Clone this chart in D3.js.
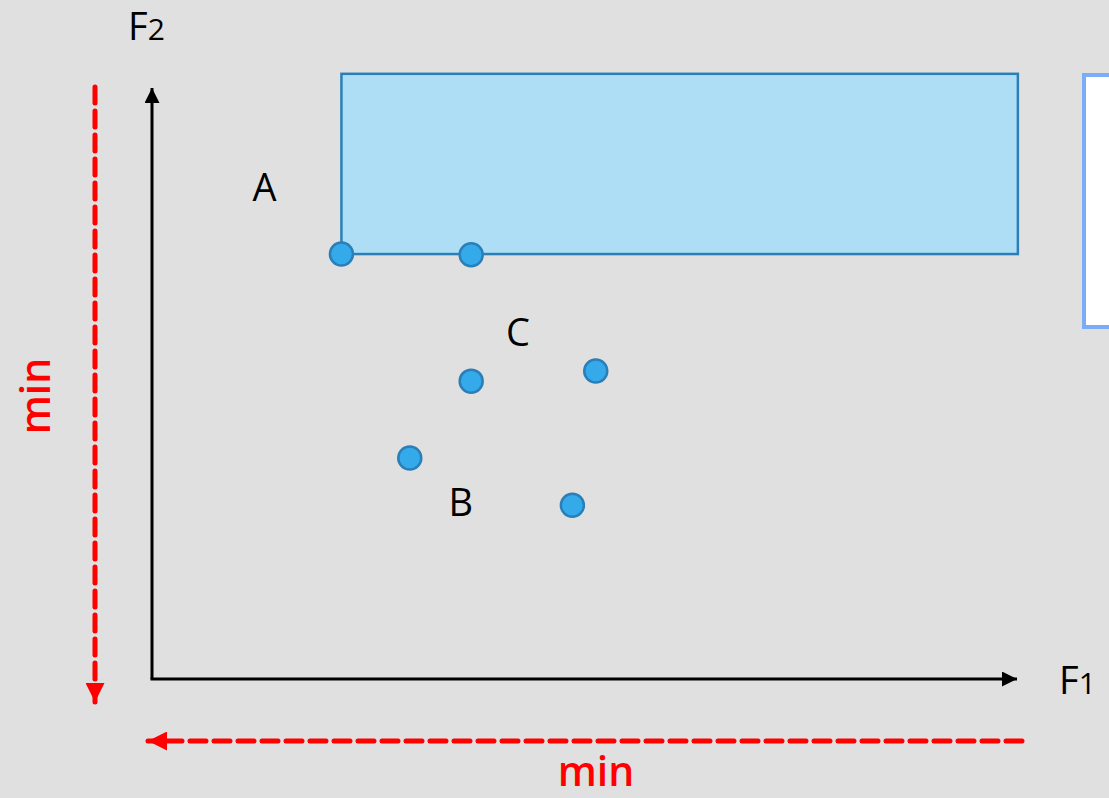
<!DOCTYPE html>
<html lang="en">
<head>
    <meta charset="UTF-8">
    <title>F1 / F2 dominance</title>
    <script src="https://d3js.org/d3.v7.min.js"></script>
    <style>
        body {
            margin: 0;
            background-color: #e0e0e0;
            font-family: 'Open Sans', sans-serif;
        }
        svg { display: block; }
        .label { font-size: 38px; fill: #000; }
        .min-label { font-size: 41px; font-weight: 600; fill: #ff0000; }
        .dash { stroke: #ff0000; stroke-width: 5; stroke-dasharray: 16 8; stroke-linecap: round; fill: none; }
    </style>
</head>
<body>
    <svg id="chart" width="1109" height="798"></svg>

    <script>
        // objective values (F1, F2 on a 0-100 scale)
        const pointsF1 = [21.9, 36.9, 36.9, 51.3, 29.8, 48.6];
        const pointsF2 = [71.9, 71.8, 50.4, 52.1, 37.4, 29.4];

        // dominated region (upper right of point A)
        const regionF1 = [21.9, 100.1];
        const regionF2 = [71.9, 102.4];

        // letter labels
        const labelNames = ["A", "C", "B"];
        const labelF1 = [13.0, 42.3, 35.7];
        const labelF2 = [83.2, 58.7, 29.9];

        const svg = d3.select("#chart");
        const x = d3.scaleLinear().domain([0, 100]).range([152, 1017]);
        const y = d3.scaleLinear().domain([0, 100]).range([679, 88]);

        const defs = svg.append("defs");
        defs.append("marker")
            .attr("id", "arrowBlack")
            .attr("viewBox", "0 0 10 10")
            .attr("refX", 10).attr("refY", 5)
            .attr("markerWidth", 5).attr("markerHeight", 5)
            .attr("markerUnits", "strokeWidth")
            .attr("orient", "auto")
            .append("path").attr("d", "M0,0 L10,5 L0,10 Z").attr("fill", "#000");
        defs.append("marker")
            .attr("id", "arrowRed")
            .attr("viewBox", "0 0 10 10")
            .attr("refX", 10).attr("refY", 5)
            .attr("markerWidth", 4).attr("markerHeight", 3.8)
            .attr("markerUnits", "strokeWidth")
            .attr("orient", "auto")
            .append("path").attr("d", "M0,0 L10,5 L0,10 Z").attr("fill", "#ff0000");

        // white panel cut off at the right edge
        svg.append("rect")
            .attr("x", 1084).attr("y", 75)
            .attr("width", 60).attr("height", 252)
            .attr("fill", "#ffffff")
            .attr("stroke", "#7aacf7")
            .attr("stroke-width", 4);

        // dominated region
        svg.append("rect")
            .attr("x", x(regionF1[0]))
            .attr("y", y(regionF2[1]))
            .attr("width", x(regionF1[1]) - x(regionF1[0]))
            .attr("height", y(regionF2[0]) - y(regionF2[1]))
            .attr("fill", "#addef5")
            .attr("stroke", "#2a7fb8")
            .attr("stroke-width", 2.5);

        // axes
        svg.append("line")
            .attr("x1", x(0)).attr("y1", y(0))
            .attr("x2", x(0)).attr("y2", y(100))
            .attr("stroke", "#000").attr("stroke-width", 3)
            .attr("marker-end", "url(#arrowBlack)");
        svg.append("line")
            .attr("x1", x(0) - 1.5).attr("y1", y(0))
            .attr("x2", x(100)).attr("y2", y(0))
            .attr("stroke", "#000").attr("stroke-width", 3)
            .attr("marker-end", "url(#arrowBlack)");

        // axis names
        const f2 = svg.append("text").attr("class", "label").attr("x", 128).attr("y", 40);
        f2.append("tspan").text("F");
        f2.append("tspan").attr("font-size", "30px").text("2");
        const f1 = svg.append("text").attr("class", "label").attr("x", 1059).attr("y", 694);
        f1.append("tspan").text("F");
        f1.append("tspan").attr("font-size", "30px").text("1");

        // points
        const pts = pointsF1.map((v, i) => ({ f1: v, f2: pointsF2[i] }));
        svg.selectAll(".pt").data(pts).enter()
            .append("circle")
            .attr("class", "pt")
            .attr("cx", d => x(d.f1))
            .attr("cy", d => y(d.f2))
            .attr("r", 11.5)
            .attr("fill", "#35aaea")
            .attr("stroke", "#2a7fb8")
            .attr("stroke-width", 2.5);

        svg.selectAll(".letter").data(labelNames).enter()
            .append("text")
            .attr("class", "label")
            .attr("text-anchor", "middle")
            .attr("x", (d, i) => x(labelF1[i]))
            .attr("y", (d, i) => y(labelF2[i]) + 14)
            .text(d => d);

        // minimisation arrows
        svg.append("line").attr("class", "dash")
            .attr("x1", 95).attr("y1", 87)
            .attr("x2", 95).attr("y2", 702)
            .attr("marker-end", "url(#arrowRed)");
        svg.append("line").attr("class", "dash")
            .attr("x1", 1022).attr("y1", 741)
            .attr("x2", 148).attr("y2", 741)
            .attr("marker-end", "url(#arrowRed)");

        svg.append("text").attr("class", "min-label")
            .attr("text-anchor", "middle")
            .attr("transform", "translate(50,396) rotate(-90)")
            .text("min");
        svg.append("text").attr("class", "min-label")
            .attr("text-anchor", "middle")
            .attr("x", 596).attr("y", 786)
            .text("min");
    </script>
</body>
</html>
